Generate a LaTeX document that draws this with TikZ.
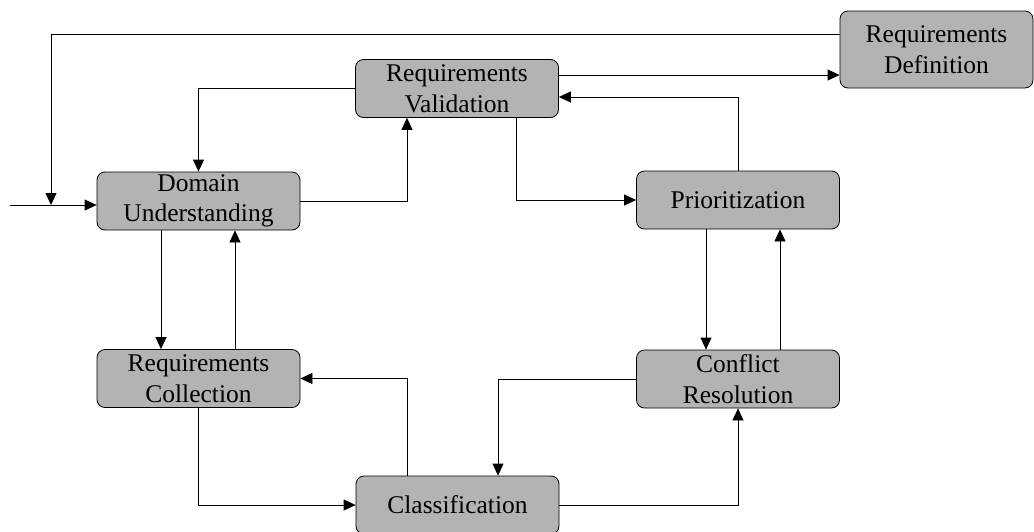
\documentclass[tikz,border=0pt]{standalone}
\usepackage{fontspec}
\setmainfont{Liberation Serif}
\newfontfamily\phasefont{Liberation Serif}
\usetikzlibrary{arrows.meta}
\definecolor{boxgray}{RGB}{179,179,179}
\begin{document}
\begin{tikzpicture}[>={Triangle[length=12pt,width=11pt]}, x=1pt, y=-1pt, line width=0.8pt,
    phase/.style={draw, fill=boxgray, rounded corners=8pt, minimum width=203pt, minimum height=58pt,
        inner sep=0pt, align=center, font=\phasefont\fontsize{25.5}{30.5}\selectfont}]
            \useasboundingbox (0,0) rectangle (1034,531);

            \node[phase] (dom) at (198.5, 201) {Domain\\Understanding};
            \node[phase] (val) at (457, 88.5) {Requirements\\Validation};
            \node[phase, minimum width=193pt, minimum height=77pt] (def) at (936.5, 49.5) {Requirements\\Definition};
            \node[phase] (pri) at (738, 200) {Prioritization};
            \node[phase] (col) at (198.5, 378.5) {Requirements\\Collection};
            \node[phase] (con) at (738, 379) {Conflict\\Resolution};
            \node[phase] (cls) at (457.5, 505) {Classification};

            \coordinate (start) at (10, 205);
            \coordinate (join) at (51, 205);
            \draw[->] (start) -- (start -| dom.west);
            \draw[->] (def.west |- 0,34) -| (join);
            \draw[->] (val.east |- 0,75) -- (def.west |- 0,75);
            \draw[->] (pri.north) |- (val.east |- 0,97);
            \draw[->] (val.west) -| (dom.north);
            \draw[->] (dom.east) -| (val.south -| 407,0);
            \draw[->] (val.south -| 516,0) |- (pri.west);
            \draw[->] (pri.south -| 706,0) -- (con.north -| 706,0);
            \draw[->] (con.north -| 780,0) -- (pri.south -| 780,0);
            \draw[->] (con.west) -| (cls.north -| 498,0);
            \draw[->] (cls.east) -| (con.south);
            \draw[->] (cls.north -| 407,0) |- (col.east);
            \draw[->] (col.south) |- (cls.west);
            \draw[->] (dom.south -| 161,0) -- (col.north -| 161,0);
            \draw[->] (col.north -| 235,0) -- (dom.south -| 235,0);
        \end{tikzpicture}
\end{document}
